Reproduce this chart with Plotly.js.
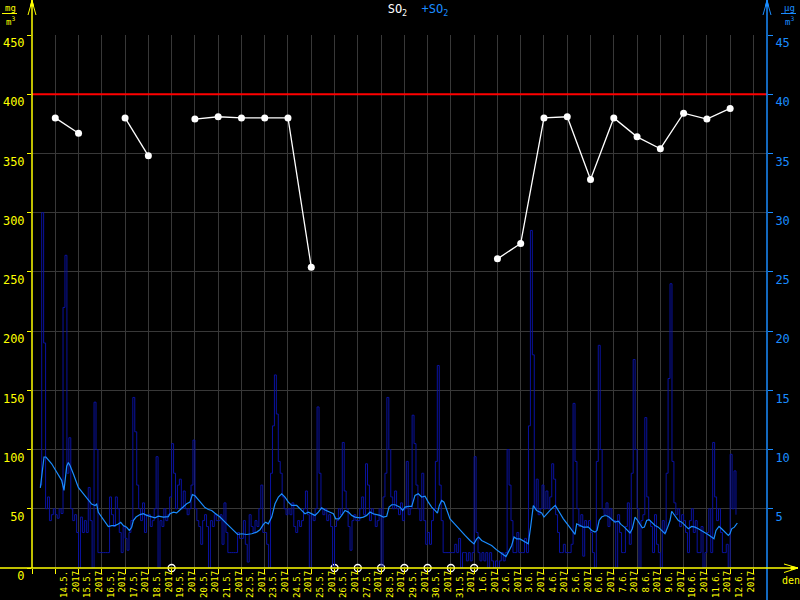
<!DOCTYPE html>
<html><head><meta charset="utf-8">
<script src="https://cdn.plot.ly/plotly-3.0.1.min.js"></script>
<style>html,body{margin:0;padding:0;background:#000;}#chart{width:800px;height:600px;}</style>
</head><body><div id="chart"></div>
<script>
// ---------- DATA ----------
const yearLabel = '2017';
const dayLabels = ['14.5.','15.5.','16.5.','17.5.','18.5.','19.5.','20.5.','21.5.','22.5.','23.5.','24.5.','25.5.','26.5.','27.5.','28.5.','29.5.','30.5.','31.5.','1.6.','2.6.','3.6.','4.6.','5.6.','6.6.','7.6.','8.6.','9.6.','10.6.','11.6.','12.6.'];
// daily SO2 (left axis), one per labelled day, null = no value
const dailySO2 = [380,367,null,380,348,null,379,381,380,380,380,254,null,null,null,null,null,null,null,261,274,380,381,328,380,364,354,384,379,388];
// days flagged with an open circle on the axis
const flaggedDays = ['19.5.','26.5.','27.5.','28.5.','29.5.','30.5.','31.5.','1.6.'];
const limitValue = 400;
// +SO2 measured values (right axis), every 2 h from 13.5. 08:00
const hourlyStartHour = 8;
const hourlyStep = 2;
const hourlySO2 = [
 7,30,19,5,6,4,4.5,5,
 4.5,4.2,5,4.6,22,26.4,8,11,5,4,4.5,3,
 0,4.3,3,4,3,6.8,4,0,14,10,1.3,1.3,
 1.3,1.3,1.3,1.3,6,4.5,3.5,6,5,3,1.3,3.5,
 2.5,1.5,3,4,14.4,11.5,7,5,4,5.5,3,4.5,
 4.5,3.5,4,5,9.4,0,4,3.5,5,4,4.5,6,
 10.5,8,5,7,7.5,5,6.5,5,4.5,5,7,10.8,
 5,4,3.5,2,4,4.5,3.5,0,4,3.5,4.5,4,
 4,4.5,2,5.5,3,1.3,1.3,1.3,1.3,1.3,3,2.5,
 2.5,4,2,0.5,4.5,3.5,3,4,3.5,5,7,3,
 3,2,0,8,12,16.3,13,9,8,6,5,4.5,
 5,4.5,5.5,3.5,3,4,3.5,4,5,6.5,4.5,0,
 4.5,4,5,13.6,8,5,4.5,5,4,4.5,3.5,0,
 3.5,4,5,4.5,10.6,6.5,5,3.5,1.5,4,4.5,4,
 4,5,6,4.5,8.8,7,4,5,4.5,3.5,4,5,
 0,6,8,14.4,10,6,5,6.5,5,4.5,5.5,4,
 5,9,4.5,5,12.9,10.5,7,5,4,8,4,2,
 3,2,4,5,9,17.1,7,4,1.3,1.3,1.3,1.3,
 1.3,1.3,2,1.3,2.5,0,1.3,1.3,0.6,1.3,0.6,1.3,
 9.4,3,1.3,0.6,1.3,0.6,1.3,0,1.3,0.6,0,0.6,
 0,0.6,1.3,0.6,1.3,10,7,4,1.3,1.3,3,1.3,
 1.3,1.3,2.5,1.3,12,28.5,18,5,7.5,4.5,5,7,
 5,6.5,5,6,8.8,7.5,4.5,3,1.3,1.3,2,1.3,
 1.3,1.3,2,13.9,9,5,3.5,4.5,1,4,3.5,4,
 3,1.3,0,9,18.8,10,5,4.5,5.5,3.5,5,4,
 4,0,4.5,3,1.3,1.3,3.5,5.5,2,8,17.6,10,
 5,0,4,4.5,12.7,6,4,3.5,1.3,4.5,2,1.3,
 0,4,3,8,16,24,9,5.5,4.5,5,3.5,4.5,
 4,3,1.3,4,5,3,4,1.3,1.3,3.5,0,1.3,
 3,5,1.3,10.6,6,4,5,3,1.3,1.3,2,0,
 9.6,5,8.2,4.5
];
// smoothed +SO2 (right axis): hours since 13.5. 00:00 and values
const smoothHours = [8.6,12.4,14.4,20.3,25.4,30.6,33.0,34.0,35.8,37.5,39.2,42.6,47.8,52.9,58.1,61.5,65.0,66.7,68.4,71.8,75.3,78.7,82.2,85.6,89.0,91.5,94.2,97.6,100.4,102.8,104.5,107.3,111.4,114.8,118.3,123.4,126.9,130.3,135.5,140.6,142.3,145.8,149.2,151.9,155.4,159.5,162.9,165.4,168.1,171.5,175.0,178.4,181.9,185.3,
188.7,193.9,199.1,204.2,209.4,212.1,216.2,221.4,226.6,231.7,235.1,238.6,241.0,243.7,247.2,250.6,254.1,257.5,260.9,264.4,267.8,273.0,278.1,281.5,285.0,288.4,291.8,295.3,298.7,302.2,307.3,310.8,313.2,316.6,319.4,322.8,326.3,329.7,333.1,338.3,341.7,345.2,348.6,352.0,355.5,358.9,362.4,365.8,368.2,371.0,374.4,377.2,
379.5,382.3,384.7,388.1,391.6,395.0,398.4,401.9,405.3,408.7,412.2,415.6,418.1,420.1,422.5,424.9,427.6,431.1,436.3,441.4,446.6,451.7,455.8,458.6,460.6,463.7,468.9,474.0,479.2,484.4,488.8,491.2,494.7,497.1,499.8,503.2,507.4,511.8,514.2,517.0,520.4,523.2,525.6,528.0,530.7,534.2,537.6,539.7,542.8,548.0,553.1,558.3,560.0,561.7,565.2,568.6,
573.8,577.2,580.6,582.7,584.9,587.5,590.3,592.7,595.1,597.8,601.2,604.7,607.4,610.9,614.3,616.7,619.1,621.9,624.6,627.0,629.4,631.5,633.9,636.3,639.1,642.5,645.9,649.4,652.8,655.6,658.0,659.7,663.2,666.6,670.0,673.5,676.9,680.3,683.8,687.2,690.6,694.1,697.5,700.9,703.3,705.4,708.5,711.2,714.7,718.1,719.8,721.6,724.3,727.4];
const smoothSO2 = [6.77,9.37,9.37,8.8,8.1,7.4,6.55,7.4,8.6,8.9,8.65,7.95,6.8,6.27,5.7,5.4,5.28,5.4,4.7,4.3,3.86,3.5,3.58,3.58,3.72,3.86,3.58,3.44,3.17,3.44,4.0,4.3,4.51,4.58,4.44,4.3,4.24,4.37,4.3,4.34,4.58,4.72,4.65,4.86,5.14,5.42,5.56,6.2,6.1,5.79,5.45,5.1,4.94,4.86,
4.63,4.3,3.87,3.45,3.03,2.83,2.89,2.83,2.89,3.03,3.23,3.68,3.87,3.73,4.3,5.42,5.99,6.27,5.99,5.56,5.28,5.28,4.86,4.58,4.72,4.58,4.44,4.72,5.08,4.9,4.72,4.58,4.15,4.15,4.44,4.86,4.72,4.44,4.3,4.24,4.3,4.44,4.72,4.58,4.51,4.44,4.3,4.37,5.14,5.34,5.34,5.2,
5.14,4.86,5.14,5.2,5.2,6.13,6.27,5.99,6.06,5.56,5.14,4.86,4.63,5.28,5.7,5.56,4.86,4.15,3.68,3.17,2.75,2.32,2.04,2.46,2.61,2.32,2.1,1.9,1.53,1.2,0.97,1.34,1.9,2.61,2.46,2.46,2.27,2.04,3.44,5.28,4.86,4.72,4.65,4.3,4.58,4.86,5.14,5.28,4.86,4.15,3.59,3.03,2.83,3.73,3.59,3.45,
3.45,3.17,3.03,3.17,4.01,4.3,4.41,4.41,4.3,4.08,3.87,3.96,3.68,3.45,3.17,2.96,3.32,4.3,4.01,3.68,3.39,3.45,4.01,4.08,3.87,3.59,3.45,3.17,2.89,3.45,4.01,4.79,4.44,4.01,3.87,3.59,3.31,3.51,3.45,3.31,3.17,2.97,2.8,2.61,2.46,3.17,3.51,3.31,3.03,2.75,2.89,3.31,3.45,3.8];

// ---------- STYLE / GEOMETRY ----------
const YEL = '#ffff00', BLUE = '#1a8cff', DARK = '#0a12a0', GRID = '#383838';
const FONT = 'DejaVu Sans Mono';
const W = 800, H = 600, ML = 32, MR = 33, MT = 35, MB = 32;
const PL = ML, PR = W - MR, PT = MT, PB = H - MB;
const pxX = v => (v - PL) / (PR - PL);
const pxY = v => (PB - v) / (PB - PT);
const xMax = 758;

const hourlyX = hourlySO2.map((_, i) => hourlyStartHour + i * hourlyStep);
const dailyX = dailySO2.map((_, i) => 24 * (i + 1));
const labelX = dayLabels.map((_, i) => 24 * (i + 1) + 12);
const labelText = dayLabels.map(d => d + '<br>' + yearLabel);
const dayBounds = [0].concat(dayLabels.map((_, i) => 24 * (i + 1)), [24 * (dayLabels.length + 1)]);
const flaggedX = flaggedDays.map(d => 24 * (dayLabels.indexOf(d) + 1));
const flaggedY = flaggedDays.map(() => 0);

const traces = [
  {x: hourlyX, y: hourlySO2, xaxis: 'x', yaxis: 'y2', type: 'scatter', mode: 'lines',
   line: {color: DARK, width: 1, shape: 'hv'}, hoverinfo: 'skip'},
  {x: smoothHours, y: smoothSO2, xaxis: 'x', yaxis: 'y2', type: 'scatter', mode: 'lines',
   line: {color: BLUE, width: 1.2}, hoverinfo: 'skip'},
  {x: dailyX, y: dailySO2, xaxis: 'x', yaxis: 'y', type: 'scatter', mode: 'lines+markers',
   connectgaps: false, line: {color: '#ffffff', width: 1.3},
   marker: {color: '#ffffff', size: 7}, cliponaxis: false},
  {x: flaggedX, y: flaggedY, xaxis: 'x', yaxis: 'y', type: 'scatter', mode: 'markers',
   marker: {symbol: 'circle-open', color: '#ffffff', size: 7, line: {width: 1.3, color: '#ffffff'}},
   cliponaxis: false}
];

function seg(x0, y0, x1, y1, color, width) {
  return {type: 'line', xref: 'paper', yref: 'paper', x0: pxX(x0), y0: pxY(y0), x1: pxX(x1), y1: pxY(y1),
          line: {color: color, width: width || 1}, layer: 'above'};
}
function tri(pts, color) {
  const p = 'M ' + pts.map(q => pxX(q[0]) + ' ' + pxY(q[1])).join(' L ') + ' Z';
  return {type: 'path', xref: 'paper', yref: 'paper', path: p, fillcolor: color,
          line: {color: color, width: 1}, layer: 'above'};
}

const shapes = [
  {type: 'line', xref: 'paper', yref: 'y', x0: 0, x1: 1, y0: limitValue, y1: limitValue,
   line: {color: '#ff0000', width: 2}, layer: 'above'},
  seg(PL, PB, PL, 0, YEL, 1.5),
  seg(PL, 1, PL - 4, 15, YEL, 1), seg(PL, 1, PL + 4, 15, YEL, 1),
  tri([[PL, 0], [PL - 1.5, 6], [PL + 1.5, 6]], YEL),
  seg(PR, H, PR, 0, BLUE, 1.5),
  seg(PR, 1, PR - 4, 15, BLUE, 1), seg(PR, 1, PR + 4, 15, BLUE, 1),
  tri([[PR, 0], [PR - 1.5, 6], [PR + 1.5, 6]], BLUE),
  seg(0, PB, 798, PB, YEL, 1.5),
  seg(798, PB, 784, PB - 4, YEL, 1), seg(798, PB, 784, PB + 4.5, YEL, 1),
  tri([[798, PB], [791, PB - 1.5], [791, PB + 1.5]], YEL),
  seg(2, 13.5, 17, 13.5, YEL, 1),
  seg(781, 13.5, 796, 13.5, BLUE, 1)
];

const annotations = [
  {text: 'mg', x: pxX(10.5), y: pxY(8), xref: 'paper', yref: 'paper', showarrow: false,
   font: {family: FONT, size: 9, color: YEL}, xanchor: 'center', yanchor: 'middle'},
  {text: 'm<sup>3</sup>', x: pxX(10.5), y: pxY(20.5), xref: 'paper', yref: 'paper', showarrow: false,
   font: {family: FONT, size: 9, color: YEL}, xanchor: 'center', yanchor: 'middle'},
  {text: 'µg', x: pxX(789), y: pxY(8), xref: 'paper', yref: 'paper', showarrow: false,
   font: {family: FONT, size: 9, color: BLUE}, xanchor: 'center', yanchor: 'middle'},
  {text: 'm<sup>3</sup>', x: pxX(789), y: pxY(20.5), xref: 'paper', yref: 'paper', showarrow: false,
   font: {family: FONT, size: 9, color: BLUE}, xanchor: 'center', yanchor: 'middle'},
  {text: 'den', x: pxX(790.5), y: pxY(580.5), xref: 'paper', yref: 'paper', showarrow: false,
   font: {family: FONT, size: 10, color: YEL}, xanchor: 'center', yanchor: 'middle'}
];

const layout = {
  width: W, height: H, showlegend: false,
  paper_bgcolor: '#000000', plot_bgcolor: '#000000',
  margin: {l: ML, r: MR, t: MT, b: MB, pad: 0},
  title: {text: 'SO<sub>2</sub>  <span style="color:' + BLUE + '">+SO<sub>2</sub></span>',
          font: {family: FONT, size: 12, color: '#ffffff'},
          x: 418 / W, xanchor: 'center', xref: 'container', y: 1 - 9 / H, yanchor: 'middle', yref: 'container'},
  xaxis: {type: 'linear', range: [0, xMax], tickmode: 'array', tickvals: labelX, ticktext: labelText,
          tickangle: -90, tickfont: {family: FONT, size: 9, color: YEL}, ticklabelshift: 3,
          showgrid: false, zeroline: false, showline: false, ticks: '',
          minor: {tickmode: 'array', tickvals: dayBounds, showgrid: true, gridcolor: GRID, gridwidth: 1,
                  ticks: 'outside', ticklen: 5, tickwidth: 1, tickcolor: YEL},
          fixedrange: true},
  yaxis: {range: [0, 450], tickmode: 'linear', tick0: 0, dtick: 50, showgrid: true, gridcolor: GRID,
          zeroline: false, showline: false, ticks: 'outside', ticklen: 4, tickcolor: YEL,
          tickfont: {family: FONT, size: 12, color: YEL}, ticklabelshift: 8, fixedrange: true},
  yaxis2: {range: [0, 45], overlaying: 'y', side: 'right', anchor: 'x', tickmode: 'array',
           tickvals: [5, 10, 15, 20, 25, 30, 35, 40, 45], showgrid: false, zeroline: false, showline: false,
           ticks: 'outside', ticklen: 5, tickcolor: BLUE, tickfont: {family: FONT, size: 12, color: BLUE},
           ticklabelshift: 8, fixedrange: true},
  shapes: shapes, annotations: annotations
};

Plotly.newPlot('chart', traces, layout, {staticPlot: true, displayModeBar: false});
</script>
</body></html>
